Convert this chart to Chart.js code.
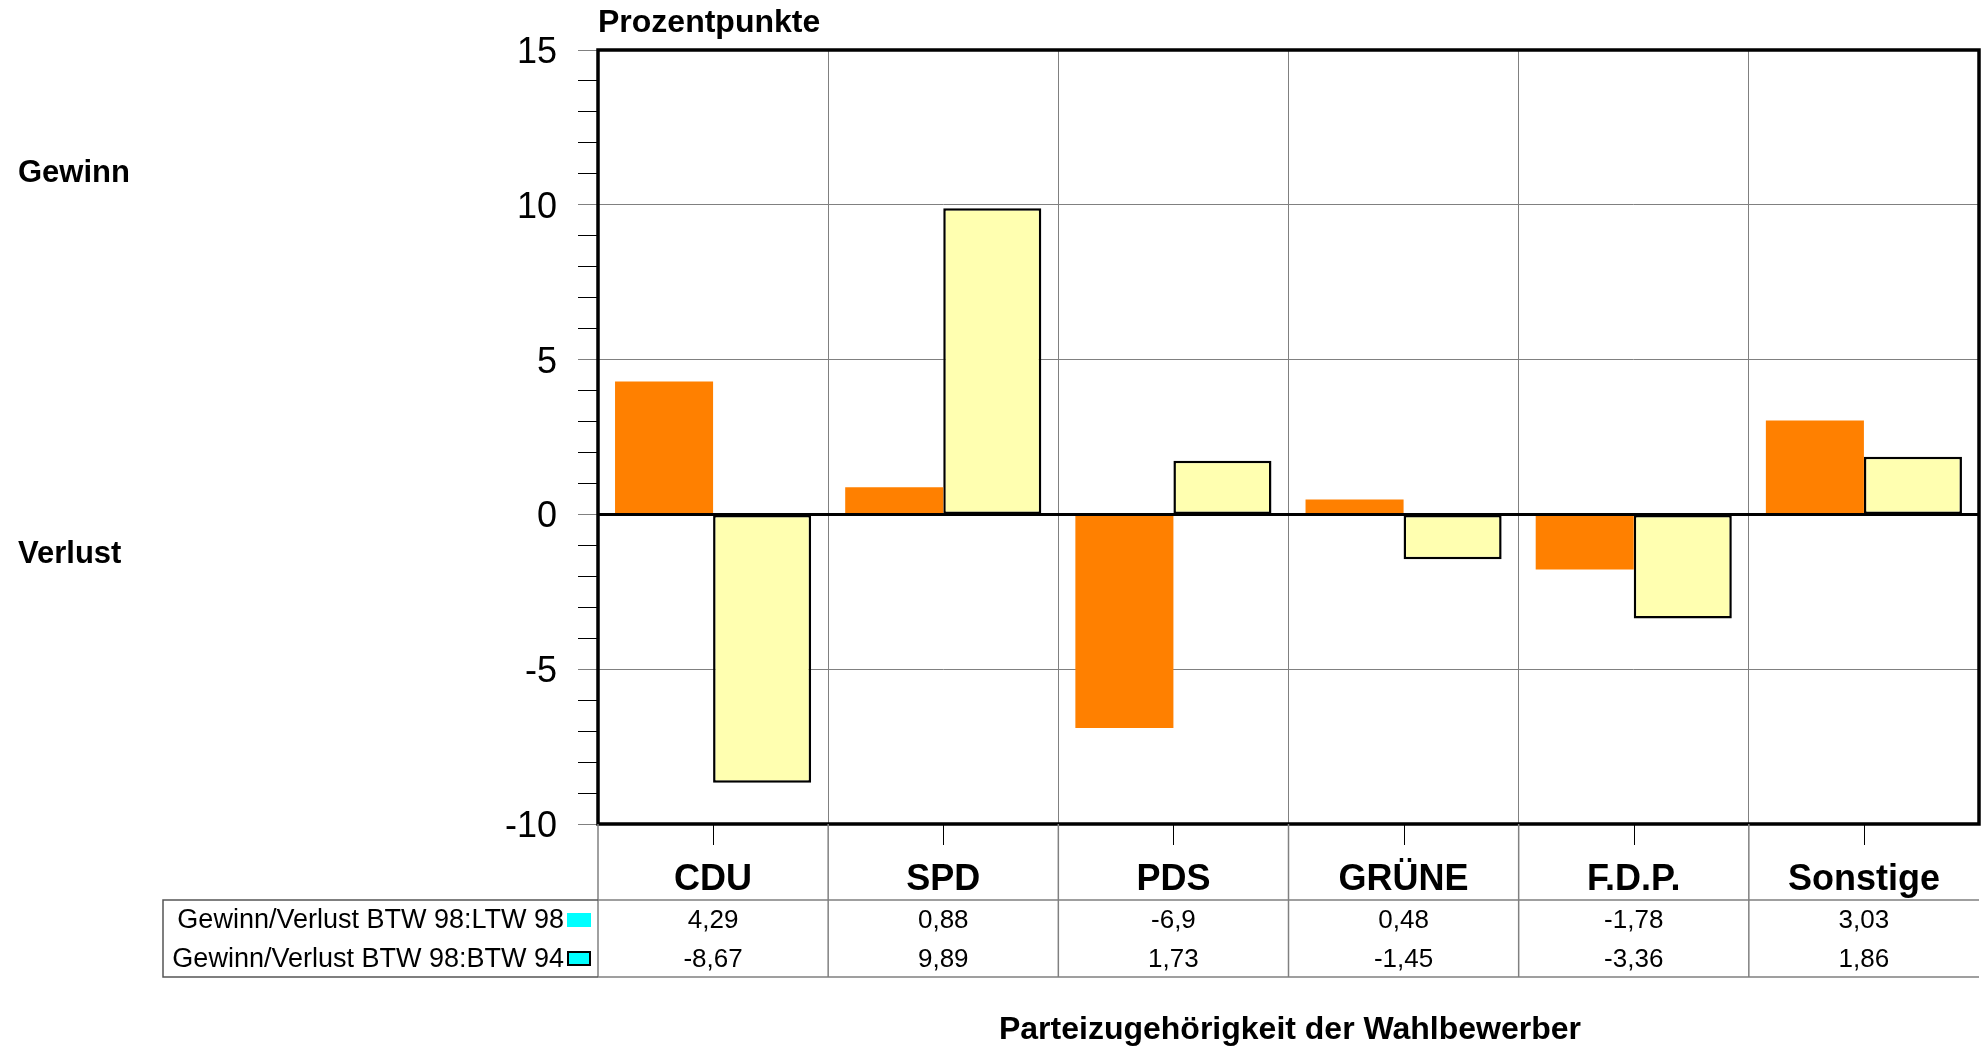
<!DOCTYPE html>
<html>
<head>
<meta charset="utf-8">
<script src="https://cdn.jsdelivr.net/npm/chart.js@4.4.1/dist/chart.umd.min.js"></script>
<style>
    body { margin: 0; background: #fff; }
    canvas { display: block; }
</style>
</head>
<body>
<canvas id="chart" width="1982" height="1048"></canvas>
<script>
// =========================
// DATA
// =========================
const parties = ['CDU', 'SPD', 'PDS', 'GRÜNE', 'F.D.P.', 'Sonstige'];
const seriesNames = ['Gewinn/Verlust BTW 98:LTW 98', 'Gewinn/Verlust BTW 98:BTW 94'];
const ltw98 = [4.29, 0.88, -6.9, 0.48, -1.78, 3.03];
const btw94 = [-8.67, 9.89, 1.73, -1.45, -3.36, 1.86];
const yTicksMajor = [-10, -5, 0, 5, 10, 15];

const FONT = '"Liberation Sans", Arial, sans-serif';
const ORANGE = '#FF8000';
const YELLOW = '#FFFFB0';
const GRID = '#808080';

function fmt(v) {
    return String(v).replace('.', ',');
}

// =========================
// FRAME, ZERO LINE, DATA TABLE, LABELS
// =========================
const extrasPlugin = {
    id: 'extras',
    afterDatasetsDraw(chart) {
        const ctx = chart.ctx;
        const area = chart.chartArea;
        const y0 = chart.scales.y.getPixelForValue(0);

        ctx.save();
        ctx.strokeStyle = '#000';
        ctx.lineWidth = 3;
        // zero line
        ctx.beginPath();
        ctx.moveTo(area.left, y0);
        ctx.lineTo(area.right, y0);
        ctx.stroke();
        // plot frame
        ctx.lineWidth = 3.5;
        ctx.strokeRect(area.left, area.top, area.right - area.left, area.bottom - area.top);
        ctx.restore();
    },
    afterDraw(chart) {
        const ctx = chart.ctx;
        const area = chart.chartArea;
        const x = chart.scales.x;
        const tableTop = 900;
        const tableBottom = 977;
        const rowBase = [928, 967];
        const catW = (area.right - area.left) / parties.length;

        ctx.save();

        // category tick marks below the axis
        ctx.strokeStyle = '#000';
        ctx.lineWidth = 1;
        parties.forEach((p, i) => {
            const cx = Math.round(x.getPixelForValue(i)) + 0.5;
            ctx.beginPath();
            ctx.moveTo(cx, area.bottom + 1);
            ctx.lineTo(cx, area.bottom + 21);
            ctx.stroke();
        });

        // vertical table lines
        ctx.strokeStyle = GRID;
        ctx.lineWidth = 1.5;
        for (let i = 0; i < parties.length; i++) {
            const bx = area.left + i * catW;
            ctx.beginPath();
            ctx.moveTo(bx, area.bottom);
            ctx.lineTo(bx, tableBottom);
            ctx.stroke();
        }

        // horizontal table lines
        ctx.beginPath();
        ctx.moveTo(area.left, tableTop);
        ctx.lineTo(area.right, tableTop);
        ctx.moveTo(area.left, tableBottom);
        ctx.lineTo(area.right, tableBottom);
        ctx.stroke();

        // legend column box
        ctx.strokeStyle = '#555';
        ctx.beginPath();
        ctx.moveTo(area.left, tableTop);
        ctx.lineTo(163, tableTop);
        ctx.lineTo(163, tableBottom);
        ctx.lineTo(area.left, tableBottom);
        ctx.stroke();

        // series labels + legend keys
        ctx.fillStyle = '#000';
        ctx.font = '27px ' + FONT;
        ctx.textAlign = 'right';
        ctx.textBaseline = 'alphabetic';
        seriesNames.forEach((name, r) => {
            ctx.fillText(name, 564, rowBase[r]);
        });
        ctx.fillStyle = '#00FFFF';
        ctx.fillRect(567, 913, 24, 14);
        ctx.fillRect(567, 951, 24, 15);
        ctx.strokeStyle = '#000';
        ctx.lineWidth = 2;
        ctx.strokeRect(568, 952, 22, 13);

        // values
        ctx.fillStyle = '#000';
        ctx.font = '26px ' + FONT;
        ctx.textAlign = 'center';
        [ltw98, btw94].forEach((vals, r) => {
            vals.forEach((v, i) => {
                ctx.fillText(fmt(v), x.getPixelForValue(i), rowBase[r]);
            });
        });

        // side texts and titles
        ctx.font = 'bold 31px ' + FONT;
        ctx.textAlign = 'left';
        ctx.fillText('Gewinn', 18, 182);
        ctx.fillText('Verlust', 18, 563);
        ctx.font = 'bold 32px ' + FONT;
        ctx.fillText('Prozentpunkte', 598, 32);
        ctx.textAlign = 'center';
        ctx.fillText('Parteizugehörigkeit der Wahlbewerber', 1290, 1039);

        ctx.restore();
    }
};

// =========================
// CHART
// =========================
const chart = new Chart(document.getElementById('chart').getContext('2d'), {
    type: 'bar',
    data: {
        labels: parties,
        datasets: [
            {
                label: seriesNames[0],
                data: ltw98,
                backgroundColor: ORANGE,
                borderWidth: 0
            },
            {
                label: seriesNames[1],
                data: btw94,
                backgroundColor: YELLOW,
                borderColor: '#000',
                borderWidth: 2.5,
                borderSkipped: false
            }
        ]
    },
    options: {
        responsive: false,
        animation: false,
        devicePixelRatio: 1,
        layout: { padding: { top: 50, right: 3, left: 0, bottom: 0 } },
        datasets: {
            bar: { categoryPercentage: 0.852, barPercentage: 1 }
        },
        plugins: {
            legend: { display: false },
            tooltip: { enabled: false }
        },
        scales: {
            x: {
                offset: true,
                border: { display: false },
                grid: {
                    offset: true,
                    color: GRID,
                    lineWidth: 1,
                    drawTicks: false
                },
                ticks: {
                    color: '#000',
                    padding: 34,
                    font: { family: FONT, size: 36, weight: 'bold' }
                },
                afterFit(scale) { scale.height = 224; }
            },
            y: {
                min: -10,
                max: 15,
                border: { display: false },
                grid: {
                    color: c => yTicksMajor.includes(c.tick.value) ? GRID : 'rgba(0,0,0,0)',
                    lineWidth: 1,
                    tickLength: 20,
                    tickWidth: 1,
                    tickColor: c => yTicksMajor.includes(c.tick.value) ? GRID : '#000'
                },
                ticks: {
                    stepSize: 1,
                    autoSkip: false,
                    color: '#000',
                    padding: 21,
                    labelOffset: 3,
                    font: { family: FONT, size: 36 },
                    callback: v => yTicksMajor.includes(v) ? String(v) : ''
                },
                afterFit(scale) { scale.width = 598; }
            }
        }
    },
    plugins: [extrasPlugin]
});
</script>
</body>
</html>
